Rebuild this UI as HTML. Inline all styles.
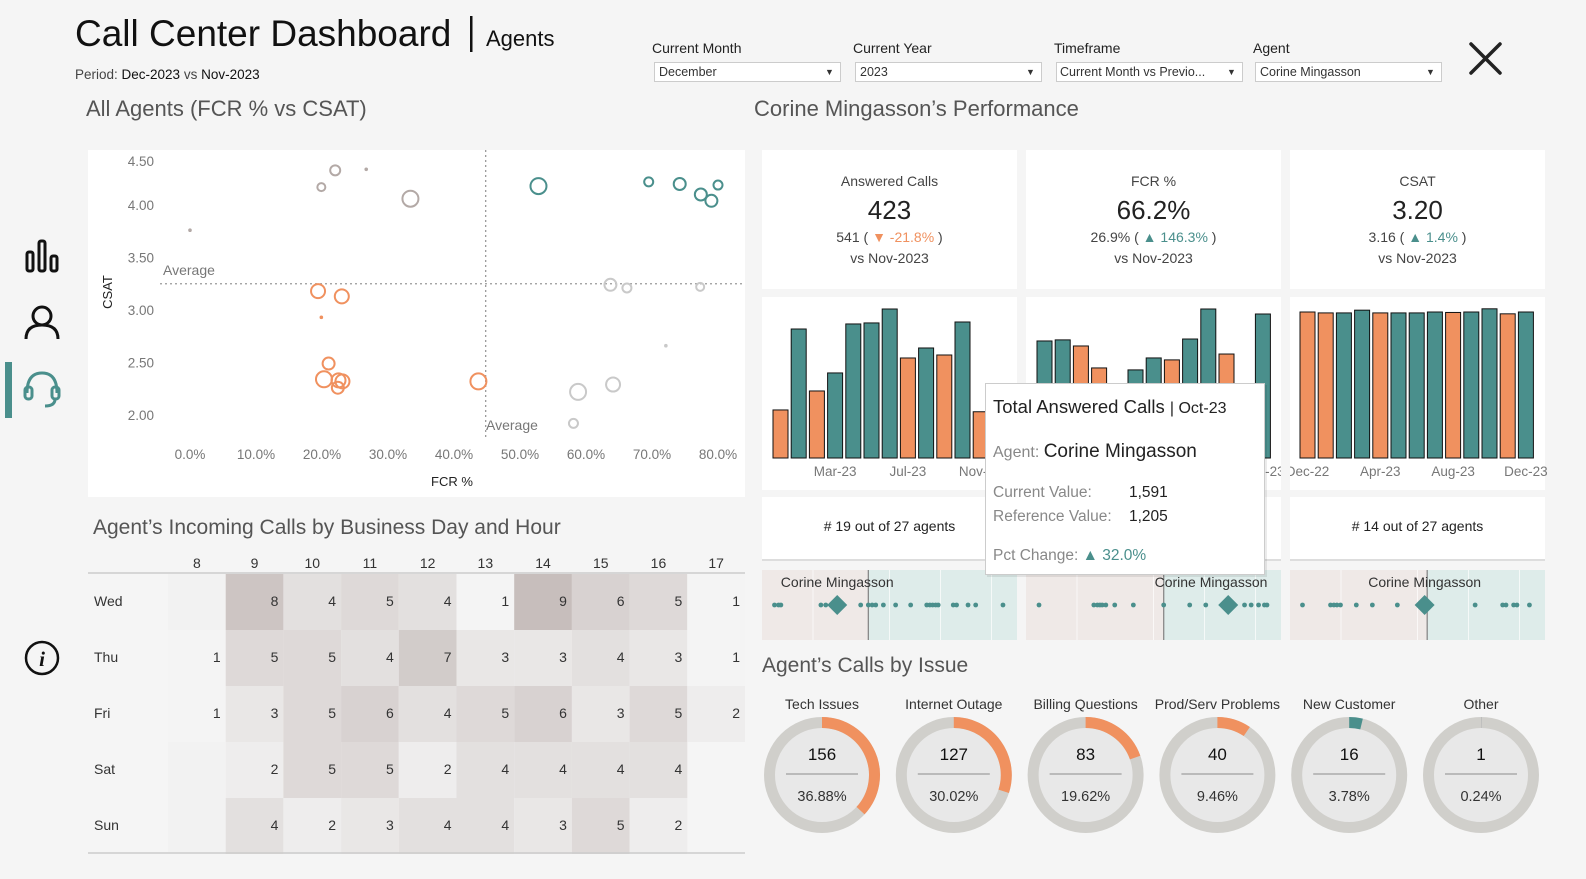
<!DOCTYPE html>
<html><head><meta charset="utf-8">
<style>
html,body{margin:0;padding:0;background:#f5f5f5;}
svg{display:block;font-family:"Liberation Sans",sans-serif;}
</style></head>
<body>
<svg id="s" width="1586" height="879" viewBox="0 0 1586 879" xmlns="http://www.w3.org/2000/svg">
<rect x="0" y="0" width="1586" height="879" fill="#f5f5f5"/>
<text x="75" y="46" font-size="37" fill="#111">Call Center Dashboard</text>
<rect x="470" y="16" width="2.5" height="36" fill="#111"/>
<text x="486" y="46" font-size="22" fill="#111">Agents</text>
<text x="75" y="79" font-size="13.5" fill="#444">Period: <tspan fill="#111">Dec-2023</tspan> vs <tspan fill="#111">Nov-2023</tspan></text>
<g>
<text x="652" y="53" font-size="14" fill="#222">Current Month</text>
<rect x="654.5" y="62.5" width="186" height="19" fill="#fff" stroke="#ccc"/>
<text x="659" y="76" font-size="12.5" fill="#333">December</text>
<text x="825" y="75" font-size="9" fill="#333">▼</text>
</g>
<g>
<text x="853" y="53" font-size="14" fill="#222">Current Year</text>
<rect x="855.5" y="62.5" width="186" height="19" fill="#fff" stroke="#ccc"/>
<text x="860" y="76" font-size="12.5" fill="#333">2023</text>
<text x="1026" y="75" font-size="9" fill="#333">▼</text>
</g>
<g>
<text x="1054" y="53" font-size="14" fill="#222">Timeframe</text>
<rect x="1056.5" y="62.5" width="186" height="19" fill="#fff" stroke="#ccc"/>
<text x="1060" y="76" font-size="12.5" fill="#333">Current Month vs Previo...</text>
<text x="1227" y="75" font-size="9" fill="#333">▼</text>
</g>
<g>
<text x="1253" y="53" font-size="14" fill="#222">Agent</text>
<rect x="1255.5" y="62.5" width="186" height="19" fill="#fff" stroke="#ccc"/>
<text x="1260" y="76" font-size="12.5" fill="#333">Corine Mingasson</text>
<text x="1426" y="75" font-size="9" fill="#333">▼</text>
</g>
<g stroke="#222" stroke-width="3.5" stroke-linecap="round">
<line x1="1471" y1="44" x2="1500" y2="73"/><line x1="1500" y1="44" x2="1471" y2="73"/>
</g>
<g fill="none" stroke="#111" stroke-width="3">
<rect x="27" y="252" width="6" height="19" rx="2"/><rect x="39" y="241" width="6" height="30" rx="2"/><rect x="51" y="256" width="6" height="15" rx="2"/>
</g>
<g fill="none" stroke="#111" stroke-width="3">
<circle cx="42" cy="316" r="9"/><path d="M26 339 Q26 325 42 325 Q58 325 58 339"/>
</g>
<rect x="5" y="362" width="7" height="56" fill="#4a8f8c"/>
<g fill="none" stroke="#4a8f8c" stroke-width="3">
<path d="M27 393 Q27 373 42 373 Q57 373 57 393"/><rect x="25" y="387" width="7" height="12" rx="3"/><rect x="52" y="387" width="7" height="12" rx="3"/><path d="M55 399 Q55 406 45 406"/>
</g>
<g>
<circle cx="42" cy="658" r="16" fill="none" stroke="#111" stroke-width="2.5"/>
<text x="42" y="666" font-size="21" font-style="italic" font-family="Liberation Serif,serif" font-weight="bold" text-anchor="middle" fill="#111">i</text>
</g>
<text x="86" y="116" font-size="22" fill="#555">All Agents (FCR % vs CSAT)</text>
<text x="754" y="116" font-size="22" fill="#555">Corine Mingasson’s Performance</text>
<text x="93" y="534" font-size="21" fill="#555">Agent’s Incoming Calls by Business Day and Hour</text>
<text x="762" y="672" font-size="21" fill="#555">Agent’s Calls by Issue</text>
<rect x="88" y="150" width="657" height="347" fill="#fff"/>
<g id="scatter"></g>
<g id="kpis"></g>
<g id="bars"></g>
<g id="strips"></g>
<g id="heat"></g>
<g id="donuts"></g>
<g>
<rect x="987" y="385" width="280" height="192" fill="#000" opacity="0.08"/>
<rect x="985.5" y="383.5" width="279" height="191" fill="#fff" stroke="#ccc"/>
<text x="993" y="413" font-size="18.5" fill="#222">Total Answered Calls <tspan font-size="16">| Oct-23</tspan></text>
<text x="993" y="457" font-size="16" fill="#888">Agent: <tspan font-size="19" fill="#222">Corine Mingasson</tspan></text>
<text x="993" y="497" font-size="15.5" fill="#888">Current Value:</text>
<text x="1129" y="497" font-size="15.5" fill="#222">1,591</text>
<text x="993" y="521" font-size="15.5" fill="#888">Reference Value:</text>
<text x="1129" y="521" font-size="15.5" fill="#222">1,205</text>
<text x="993" y="560" font-size="15.5" fill="#888">Pct Change: <tspan fill="#4a8f8c">▲ 32.0%</tspan></text>
</g>
</svg>
<script>
var NS="http://www.w3.org/2000/svg";
function mk(p,t,a){var e=document.createElementNS(NS,t);for(var k in a)e.setAttribute(k,a[k]);p.appendChild(e);return e;}
function tx(p,a,s){var e=mk(p,'text',a);e.textContent=s;return e;}
var TEAL="#4a8f8c",OR="#f0915f";

/* ---------- scatter data ---------- */
var scFcr=[22.0,19.9,26.7,33.4,0.0, 52.8,69.5,74.2,77.4,79.0,80.0, 19.4,23.0,19.9,21.0,20.3,22.5,23.1,22.4,43.7, 63.7,66.2,77.3,72.1,58.8,64.1,58.1];
var scCsat=[4.33,4.17,4.34,4.06,3.76, 4.18,4.22,4.20,4.10,4.04,4.19, 3.18,3.13,2.93,2.49,2.34,2.33,2.32,2.26,2.32, 3.24,3.21,3.22,2.66,2.22,2.29,1.92];
var scCalls=[5,4,1,8,1, 8,4.5,6,6,6,4.5, 7,7,1,6,8,7,7,6,8, 6,4.5,4,1,8,7,4.5];
var scGroup=[0,0,0,0,0, 1,1,1,1,1,1, 2,2,2,2,2,2,2,2,2, 3,3,3,3,3,3,3];
var avgFcr=44.8, avgCsat=3.25;
var xTicks=[0,10,20,30,40,50,60,70,80];
var yTicks=[4.5,4.0,3.5,3.0,2.5,2.0];
var groupColors=["#b3a9a6",TEAL,OR,"#c9c9c9"];
(function(){
 var g=document.getElementById('scatter');
 function xs(v){return 190+v*6.6;} function ys(v){return 205-(v-4)*105;}
 xTicks.forEach(function(t){var e=tx(g,{x:xs(t),y:459,'font-size':13.5,fill:'#777','text-anchor':'middle'},t.toFixed(1)+'%');
 
 });
 yTicks.forEach(function(t){var e=tx(g,{x:154,y:Math.max(ys(t)+5,166),'font-size':13.5,fill:'#777','text-anchor':'end'},t.toFixed(2));
 
 });
 var t=tx(g,{x:452,y:486,'font-size':13,fill:'#222','text-anchor':'middle'},'FCR %');
 
 
 t=tx(g,{x:112,y:292,'font-size':13,fill:'#222','text-anchor':'middle',transform:'rotate(-90 112 292)'},'CSAT');
 
 
 var l=mk(g,'line',{x1:160,x2:745,y1:ys(avgCsat),y2:ys(avgCsat),stroke:'#999','stroke-dasharray':'2,3','stroke-width':1.3});
 
 
 l=mk(g,'line',{x1:xs(avgFcr),x2:xs(avgFcr),y1:150,y2:440,stroke:'#999','stroke-dasharray':'2,3','stroke-width':1.3});
 
 
 t=tx(g,{x:163,y:275,'font-size':14,fill:'#777'},'Average');
 
 
 t=tx(g,{x:486,y:430,'font-size':14,fill:'#777'},'Average');
 
 
 for(var i=0;i<scFcr.length;i++){var r=scCalls[i],c=groupColors[scGroup[i]];
  var p=r<=1?mk(g,'circle',{cx:xs(scFcr[i]),cy:ys(scCsat[i]),r:1.8,fill:c}):mk(g,'circle',{cx:xs(scFcr[i]),cy:ys(scCsat[i]),r:r,fill:'none',stroke:c,'stroke-width':2});
  
  }
})();

/* ---------- KPI cards ---------- */
var kpiTitles=["Answered Calls","FCR %","CSAT"];
var kpiValues=["423","66.2%","3.20"];
var kpiPrev=["541","26.9%","3.16"];
var kpiChange=["-21.8%","146.3%","1.4%"];
var kpiUp=[false,true,true];
var cardX=[762,1026,1290];
(function(){
 var g=document.getElementById('kpis');
 for(var i=0;i<3;i++){var x=cardX[i],cx=x+127.5;
  var r=mk(g,'rect',{x:x,y:150,width:255,height:139,fill:'#fff'});
  
  
  var t=tx(g,{x:cx,y:186,'font-size':14,fill:'#444','text-anchor':'middle'},kpiTitles[i]);
  
  
  t=tx(g,{x:cx,y:219,'font-size':26,fill:'#222','text-anchor':'middle'},kpiValues[i]);
  
  
  t=mk(g,'text',{x:cx,y:242,'font-size':14,fill:'#444','text-anchor':'middle'});
  t.appendChild(document.createTextNode(kpiPrev[i]+' ( '));
  var ts=mk(t,'tspan',{fill:kpiUp[i]?TEAL:OR});ts.textContent=(kpiUp[i]?'▲ ':'▼ ')+kpiChange[i];
  t.appendChild(document.createTextNode(' )'));
  
  
  t=tx(g,{x:cx,y:263,'font-size':14,fill:'#444','text-anchor':'middle'},'vs Nov-2023');
  
  
 }
})();

/* ---------- trend bars ---------- */
var months=["Dec-22","Jan-23","Feb-23","Mar-23","Apr-23","May-23","Jun-23","Jul-23","Aug-23","Sep-23","Oct-23","Nov-23","Dec-23"];
var callsVals=[562,1509,784,995,1568,1580,1743,1170,1287,1205,1591,541,423];
var fcrVals=[53.8,54.3,51.5,41.4,33.1,40.5,46.0,45.1,54.7,68.5,47.8,26.9,66.2];
var csatVals=[3.20,3.18,3.18,3.24,3.18,3.18,3.18,3.20,3.19,3.20,3.27,3.16,3.20];
var callsLabels=[3,7,11];
var fcrLabels=[3,7,12];
var csatLabels=[0,4,8,12];
(function(){
 var g=document.getElementById('bars');
 var sets=[{v:callsVals,k:149/1743,x0:773,first:OR,lab:callsLabels},{v:fcrVals,k:144/66.2,x0:1037,first:TEAL,lab:fcrLabels},{v:csatVals,k:146/3.2,x0:1300,first:OR,lab:csatLabels}];
 for(var c=0;c<3;c++){var s=sets[c];
  var r=mk(g,'rect',{x:cardX[c],y:297,width:255,height:193,fill:'#fff'});
  
  
  var base=458,pitch=18.2;
  for(var i=0;i<s.v.length;i++){var h=s.v[i]*s.k;var col=i==0?s.first:(s.v[i]>=s.v[i-1]?TEAL:OR);
   var b=mk(g,'rect',{x:s.x0+i*pitch,y:base-h,width:15,height:h,fill:col,stroke:'#111','stroke-width':1});
   
   }
  s.lab.forEach(function(i){var t=tx(g,{x:s.x0+i*pitch+7.5,y:476,'font-size':13.5,fill:'#777','text-anchor':'middle'},months[i]);
   
   });
 }
 var cl=mk(g,'rect',{x:1281,y:297,width:9,height:193,fill:'#f5f5f5'});
 
 
})();

/* ---------- rank cards + strips ---------- */
var rankText=["# 19 out of 27 agents","# 6 out of 27 agents","# 14 out of 27 agents"];
var strip1=[4.9,6.5,7.4,23.1,25,38.7,41.7,43.2,44.6,47.6,52.4,58.3,64.6,65.8,66.9,68.1,69.1,75,76.3,80.8,83.8,94.5];
var strip2=[5.1,26.6,28,29,29.9,31.3,34.8,42.1,54,64.2,70.5,85.7,88.3,91.2,93.5,94.5];
var strip3=[4.9,15.9,17.2,18.4,19.8,26,32.3,42.1,72.6,83.4,84.7,87.7,89,93.9];
var agentPos=[29.5,79.3,52.8];
var refPos=[41.7,54,53.8];
(function(){
 var g=document.getElementById('strips');var strips=[strip1,strip2,strip3];
 for(var c=0;c<3;c++){(function(c){var x=cardX[c];
  var r=mk(g,'rect',{x:x,y:497,width:255,height:63,fill:'#fff'});
  
  
  var t=tx(g,{x:x+127.5,y:531,'font-size':14,fill:'#222','text-anchor':'middle'},rankText[c]);
  
  
  var ln=mk(g,'rect',{x:x,y:559,width:255,height:2,fill:'#ddd'});
  
  
  function px(v){return x+v*2.55;}
  var w=px(refPos[c])-x;
  r=mk(g,'rect',{x:x,y:570,width:w,height:70,fill:'#efe9e7'});
  
  
  r=mk(g,'rect',{x:px(refPos[c]),y:570,width:255-w,height:70,fill:'#deecea'});
  
  
  [20,50,70,90].forEach(function(v){var q=mk(g,'line',{x1:px(v),x2:px(v),y1:570,y2:640,stroke:'#fff','stroke-width':1,opacity:0.7});
   
   });
  var rl=mk(g,'line',{x1:px(refPos[c]),x2:px(refPos[c]),y1:570,y2:640,stroke:'#888','stroke-width':1.3});
  
  
  strips[c].forEach(function(v){var d=mk(g,'circle',{cx:px(v),cy:605,r:2.4,fill:TEAL});
   
   });
  var ax=px(agentPos[c]);
  var dm=mk(g,'polygon',{points:(ax-10)+',605 '+ax+',595 '+(ax+10)+',605 '+ax+',615',fill:TEAL});
  
  
  var lx=Math.min(Math.max(ax,x+74),x+185);
  t=tx(g,{x:lx,y:587,'font-size':14,fill:'#333','text-anchor':'middle'},'Corine Mingasson');
  
  
 })(c);}
})();

/* ---------- heatmap ---------- */
var hours=[8,9,10,11,12,13,14,15,16,17];
var days=["Wed","Thu","Fri","Sat","Sun"];
var heatWed=[null,8,4,5,4,1,9,6,5,1];
var heatThu=[1,5,5,4,7,3,3,4,3,1];
var heatFri=[1,3,5,6,4,5,6,3,5,2];
var heatSat=[null,2,5,5,2,4,4,4,4,null];
var heatSun=[null,4,2,3,4,4,3,5,2,null];
(function(){
 var g=document.getElementById('heat');var rows=[heatWed,heatThu,heatFri,heatSat,heatSun];
 var x0=168,cw=57.7,y0=573,rh=56;
 function col(v){var t=(v-1)/8;var a=[244,244,244],b=[199,190,188];return 'rgb('+a.map(function(q,i){return Math.round(q+(b[i]-q)*t);}).join(',')+')';}
 var bg=mk(g,'rect',{x:x0,y:y0,width:cw,height:rh*5,fill:'#f2f2f2'});
 
 
 hours.forEach(function(h,j){var t=tx(g,{x:x0+j*cw+cw/2,y:568,'font-size':14,fill:'#333','text-anchor':'middle'},h);
  
  });
 var hl=mk(g,'line',{x1:88,x2:745,y1:y0,y2:y0,stroke:'#ccc','stroke-width':1.5});
 
 
 rows.forEach(function(r,i){
  var t=tx(g,{x:94,y:y0+i*rh+rh/2+5,'font-size':14,fill:'#333'},days[i]);
  
  
  r.forEach(function(v,j){if(v===null)return;
   var c=mk(g,'rect',{x:x0+j*cw,y:y0+1+i*rh,width:cw,height:rh,fill:col(v)});
   
   
   var tt=tx(g,{x:x0+(j+1)*cw-5,y:y0+i*rh+rh/2+5,'font-size':14,fill:'#333','text-anchor':'end'},v);
   
   });
 });
 var bl=mk(g,'line',{x1:88,x2:745,y1:853,y2:853,stroke:'#ccc','stroke-width':1.5});
 
 
})();

/* ---------- donuts ---------- */
var issueNames=["Tech Issues","Internet Outage","Billing Questions","Prod/Serv Problems","New Customer","Other"];
var issueCounts=[156,127,83,40,16,1];
var issuePct=[36.88,30.02,19.62,9.46,3.78,0.24];
var issueColors=[OR,OR,OR,OR,TEAL,"#bbb"];
(function(){
 var g=document.getElementById('donuts');
 issueNames.forEach(function(n,i){var cx=822+i*131.8,cy=775,R=52.5;
  var t=tx(g,{x:cx,y:709,'font-size':14,fill:'#333','text-anchor':'middle'},n);
  
  
  var ring=mk(g,'circle',{cx:cx,cy:cy,r:R,fill:'#e8e8e8',stroke:'#d0cfcb','stroke-width':11});
  
  
  var a=issuePct[i]/100*2*Math.PI;var x2=cx+R*Math.sin(a),y2=cy-R*Math.cos(a);
  var arc=mk(g,'path',{d:'M'+cx+' '+(cy-R)+' A'+R+' '+R+' 0 '+(a>Math.PI?1:0)+' 1 '+x2.toFixed(2)+' '+y2.toFixed(2),fill:'none',stroke:issueColors[i],'stroke-width':11});
  
  
  var cn=tx(g,{x:cx,y:760,'font-size':17,fill:'#111','text-anchor':'middle'},issueCounts[i]);
  
  
  var sl=mk(g,'line',{x1:cx-36,x2:cx+36,y1:774,y2:774,stroke:'#aaa','stroke-width':1.5});
  
  
  var pc=tx(g,{x:cx,y:801,'font-size':14.5,fill:'#333','text-anchor':'middle'},issuePct[i].toFixed(2)+'%');
  
  
 });
})();
</script>
</body></html>
